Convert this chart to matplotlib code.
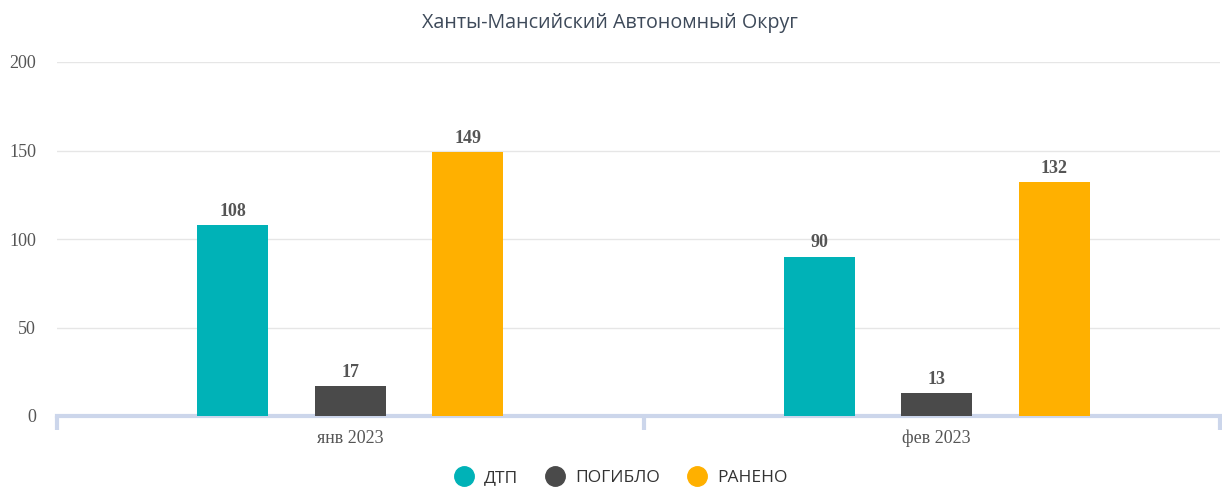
import matplotlib.pyplot as plt
import numpy as np
from matplotlib.lines import Line2D

months = ["янв 2023", "фев 2023"]
series_names = ["ДТП", "ПОГИБЛО", "РАНЕНО"]
dtp = [108, 90]
died = [17, 13]
injured = [149, 132]
colors = ["#00b2b7", "#4a4a4a", "#ffb000"]

fig = plt.figure(figsize=(12.22, 4.88), dpi=100)
# plot area: x 57..1220 px, y 62..416 px
ax = fig.add_axes([57 / 1222, 72 / 488, 1163 / 1222, 354 / 488])

x = np.arange(len(months))
width = 0.121
step = 0.2
x_right = 1.5 - 10 / 586
for i, (vals, col) in enumerate(zip([dtp, died, injured], colors)):
    pos = x + (i - 1) * step
    bars = ax.bar(pos, vals, width=width, color=col, zorder=3)
    for b, v in zip(bars, vals):
        ax.text(b.get_x() + b.get_width() / 2, v + 3, str(v), ha="center", va="bottom",
                fontsize=13, fontweight="bold", family="Liberation Serif", color="#555555")

ax.set_xlim(-0.5, x_right)
ax.set_ylim(0, 200)
ax.set_yticks([0, 50, 100, 150, 200])
ax.yaxis.grid(True, color="#e6e6e6", linewidth=1)
ax.set_axisbelow(True)
for s in ["top", "right", "left"]:
    ax.spines[s].set_visible(False)
ax.spines["bottom"].set_color("#ccd6eb")
ax.spines["bottom"].set_linewidth(3)
ax.tick_params(axis="y", length=0, pad=15, labelsize=13, labelcolor="#555555")
for lbl in ax.get_yticklabels():
    lbl.set_family("Liberation Serif")

ax.set_xticks([-0.5, 0.5, x_right])
ax.set_xticks(x, minor=True)
ax.set_xticklabels([])
ax.set_xticklabels(months, minor=True)
ax.tick_params(axis="x", which="major", length=10, width=3, color="#ccd6eb")
ax.tick_params(axis="x", which="minor", length=0, pad=10, labelsize=13, labelcolor="#555555")
for lbl in ax.get_xticklabels(minor=True):
    lbl.set_family("Liberation Serif")

fig.text(610 / 1222, 0.953, "Ханты-Мансийский Автономный Округ", ha="center", va="center",
         fontsize=14.2, family="Open Sans", color="#3e4a5a")

handles = [Line2D([], [], marker="o", linestyle="none", markersize=14, color=c) for c in colors]
leg = fig.legend(handles, series_names, loc="center", bbox_to_anchor=(0.505, 0.02),
                 ncol=3, frameon=False, handletextpad=0.15, columnspacing=1.15,
                 prop={"family": "Open Sans", "size": 12.5})
for t in leg.get_texts():
    t.set_color("#333333")

fig.savefig("out.png", dpi=100)
